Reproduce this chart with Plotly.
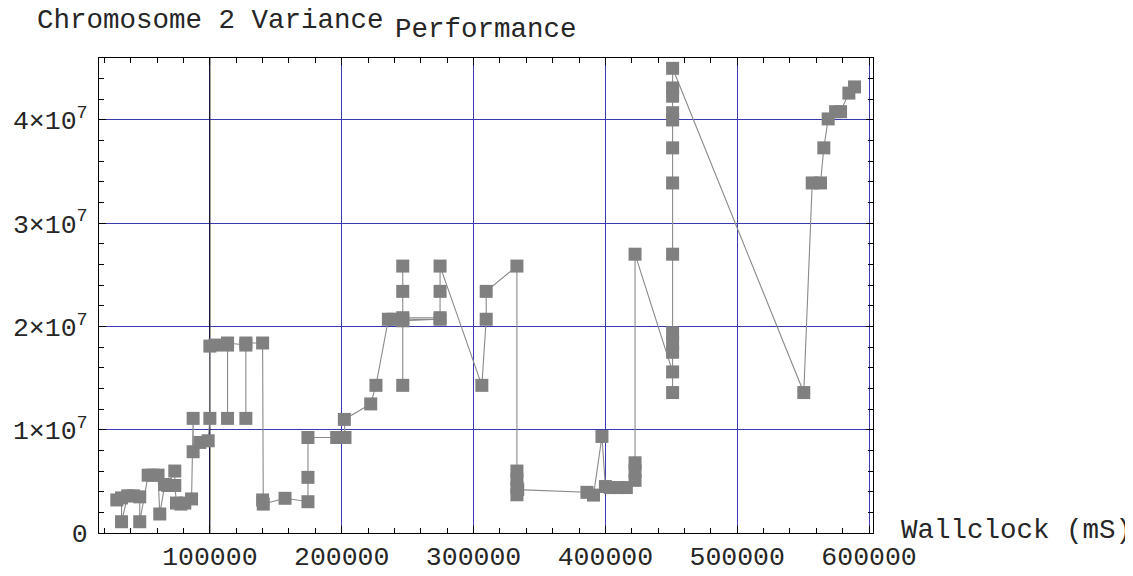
import plotly.graph_objects as go

# Wallclock (mS) in path order
wallclock = [
    29400, 33000, 33000, 37700, 42000, 46800, 46800, 53200, 56700, 60700,
    62000, 65800, 68100, 73400, 73400, 74700, 78000, 81000, 86100, 87300,
    87300, 92400, 98700, 100000, 100000, 103800, 113400, 113400, 113400, 127300,
    127300, 127300, 140000, 140000, 140500, 157000, 174400, 174400, 174400, 196200,
    202500, 202000, 222000, 226000, 235400, 239000, 246300, 274600, 246300, 246300,
    246300, 246300, 246300, 274600, 274600, 274600, 306300, 309600, 309600, 332900,
    332900, 332900, 332900, 332900, 333500, 386000, 391000, 397400, 400000, 403700,
    409800, 415900, 422500, 422500, 422500, 422500, 451000, 451000, 451000, 451000,
    451000, 451000, 451000, 451000, 451000, 451000, 451000, 451000, 451000, 550500,
    556900, 563200, 565700, 569000, 574600, 578400, 584700, 589000,
]

# Chromosome 2 variance, same order
variance = [
    3.2e6, 3.4e6, 1.09e6, 3.6e6, 3.6e6, 3.5e6, 1.09e6, 5.6e6, 5.6e6, 5.6e6,
    1.84e6, 4.7e6, 4.6e6, 6.0e6, 4.6e6, 2.9e6, 2.8e6, 2.9e6, 3.3e6, 1.11e7,
    7.87e6, 8.77e6, 8.93e6, 1.11e7, 1.81e7, 1.82e7, 1.82e7, 1.11e7, 1.84e7, 1.82e7,
    1.11e7, 1.84e7, 1.84e7, 3.2e6, 2.8e6, 3.36e6, 3.03e6, 5.39e6, 9.25e6, 9.25e6,
    9.25e6, 1.1e7, 1.25e7, 1.43e7, 2.07e7, 2.07e7, 2.07e7, 2.07e7, 2.055e7, 1.43e7,
    2.34e7, 2.585e7, 2.085e7, 2.085e7, 2.34e7, 2.585e7, 1.43e7, 2.07e7, 2.34e7, 2.585e7,
    6.0e6, 5.2e6, 4.4e6, 3.7e6, 4.2e6, 3.94e6, 3.67e6, 9.35e6, 4.5e6, 4.4e6,
    4.4e6, 4.4e6, 5.1e6, 6.0e6, 6.8e6, 2.7e7, 1.56e7, 1.36e7, 1.75e7, 1.84e7,
    1.94e7, 2.7e7, 3.39e7, 3.73e7, 4.0e7, 4.07e7, 4.23e7, 4.31e7, 4.5e7, 1.36e7,
    3.39e7, 3.39e7, 3.73e7, 4.01e7, 4.08e7, 4.08e7, 4.26e7, 4.32e7,
]

x_ticks = [100000, 200000, 300000, 400000, 500000, 600000]
x_tick_labels = ["100000", "200000", "300000", "400000", "500000", "600000"]
y_ticks = [0, 1e7, 2e7, 3e7, 4e7]
y_tick_labels = ["0", "1×10<sup>7</sup>", "2×10<sup>7</sup>", "3×10<sup>7</sup>", "4×10<sup>7</sup>"]
black_grid_x = [100000]

X_RANGE = [15900, 603000]
Y_RANGE = [0, 4.6e7]

FONT = "Liberation Mono, Courier New, monospace"
TEXT = "#262626"
GRAY = "#808080"
NAVY = "#3a3ab0"

fig = go.Figure()

# black grid line at 100000 (drawn beneath the data)
for gx in black_grid_x:
    fig.add_trace(go.Scatter(
        x=[gx, gx], y=Y_RANGE, mode="lines",
        line=dict(color="black", width=1), showlegend=False, hoverinfo="skip",
    ))

fig.add_trace(go.Scatter(
    x=wallclock, y=variance, mode="lines+markers",
    line=dict(color="#8a8a8a", width=1.1),
    marker=dict(symbol="square", size=13, color=GRAY, line=dict(width=0)),
    showlegend=False, hoverinfo="x+y",
))

axis_common = dict(
    showline=True, linecolor="black", linewidth=1, mirror="ticks",
    ticks="inside", ticklen=7, tickcolor="black", tickwidth=1,
    showgrid=True, gridcolor=NAVY, gridwidth=1, zeroline=False,
    tickfont=dict(family=FONT, size=26.5, color=TEXT),
    automargin=False,
)

fig.update_xaxes(
    range=X_RANGE, tickmode="array", tickvals=x_ticks, ticktext=x_tick_labels,
    minor=dict(dtick=20000, tick0=0, ticks="inside", ticklen=5, tickcolor="black", showgrid=False),
    ticklabelstandoff=-1,
    **axis_common,
)
fig.update_yaxes(
    range=Y_RANGE, tickmode="array", tickvals=y_ticks, ticktext=y_tick_labels,
    minor=dict(dtick=2e6, tick0=0, ticks="inside", ticklen=5, tickcolor="black", showgrid=False),
    ticklabelstandoff=5,
    **axis_common,
)

title_font = dict(family=FONT, size=27.5, color=TEXT)
fig.add_annotation(text="Chromosome 2 Variance", xref="paper", yref="paper",
                   x=-0.0832, y=1.078, xanchor="left", yanchor="middle", showarrow=False,
                   font=title_font)
fig.add_annotation(text="Performance", xref="paper", yref="paper",
                   x=0.5, y=1.06, xanchor="center", yanchor="middle", showarrow=False,
                   font=title_font)
fig.add_annotation(text="Wallclock (mS)", xref="paper", yref="paper",
                   x=1.033, y=0.006, xanchor="left", yanchor="middle", showarrow=False,
                   font=title_font)

# page body adds an 8px offset; size the figure so the plot frame lands where the reference has it
fig.update_layout(
    width=1125, height=568,
    margin=dict(l=91, r=260, t=50, b=43),
    paper_bgcolor="white", plot_bgcolor="white",
    font=dict(family=FONT, size=26),
)

fig.write_html("out.html")
